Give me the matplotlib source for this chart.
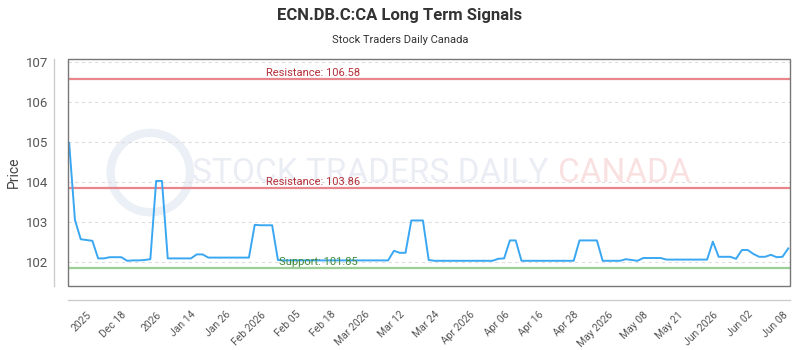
import matplotlib
matplotlib.use("Agg")
import matplotlib.pyplot as plt
from matplotlib.patches import Rectangle, Ellipse

plt.rcParams['font.family'] = ['Roboto', 'DejaVu Sans']

# daily prices
prices = [
    104.98, 103.05, 102.57, 102.55, 102.53, 102.09, 102.09, 102.12, 102.12, 102.12,
    102.03, 102.04, 102.04, 102.05, 102.07, 104.03, 104.03, 102.09, 102.09, 102.09,
    102.09, 102.09, 102.19, 102.19, 102.11, 102.11, 102.11, 102.11, 102.11, 102.11,
    102.11, 102.11, 102.93, 102.92, 102.92, 102.92, 102.05, 102.04, 102.04, 102.04,
    102.04, 102.04, 102.04, 102.04, 102.04, 102.04, 102.04, 102.04, 102.04, 102.04,
    102.04, 102.04, 102.04, 102.04, 102.04, 102.04, 102.28, 102.23, 102.23, 103.04,
    103.04, 103.04, 102.05, 102.03, 102.03, 102.03, 102.03, 102.03, 102.03, 102.03,
    102.03, 102.03, 102.03, 102.03, 102.08, 102.09, 102.54, 102.54, 102.03, 102.03,
    102.03, 102.03, 102.03, 102.03, 102.03, 102.03, 102.03, 102.03, 102.54, 102.54,
    102.54, 102.54, 102.03, 102.03, 102.03, 102.03, 102.07, 102.05, 102.03, 102.10,
    102.10, 102.10, 102.10, 102.06, 102.06, 102.06, 102.06, 102.06, 102.06, 102.06,
    102.06, 102.51, 102.13, 102.13, 102.13, 102.08, 102.30, 102.30, 102.20, 102.13,
    102.13, 102.18, 102.12, 102.13, 102.34,
]

tick_labels = ["2025", "Dec 18", "2026", "Jan 14", "Jan 26", "Feb 2026", "Feb 05",
               "Feb 18", "Mar 2026", "Mar 12", "Mar 24", "Apr 2026", "Apr 06",
               "Apr 16", "Apr 28", "May 2026", "May 08", "May 21", "Jun 2026",
               "Jun 02", "Jun 08"]
tick_pos = [3 + 6 * k for k in range(len(tick_labels))]

resistance = [106.58, 103.86]
support = [101.85]

fig = plt.figure(figsize=(8, 3.5), dpi=100)
ax = fig.add_axes([0.085, 0.183, 0.9025, 0.648])

# spines first (set_position resets the ticks)
for side in ["top", "right"]:
    ax.spines[side].set_visible(False)
for side in ["left", "bottom"]:
    ax.spines[side].set_position(("outward", 10))
    ax.spines[side].set_color("#cccccc")
    ax.spines[side].set_linewidth(1.0)

# watermark
ax.add_patch(Ellipse((0.114, 0.50), 0.11, 0.35, transform=ax.transAxes, fill=False,
                     ec="#c8d3e6", lw=6, alpha=0.35, zorder=0))
ax.text(0.418, 0.50, "STOCK TRADERS DAILY", transform=ax.transAxes, fontsize=24,
        color="#c5cde0", alpha=0.35, ha="center", va="center", zorder=0)
ax.text(0.77, 0.50, "CANADA", transform=ax.transAxes, fontsize=24,
        color="#f3a9a9", alpha=0.35, ha="center", va="center", zorder=0)

x = list(range(len(prices)))
ax.plot(x, prices, color="#3aa7f3", lw=1.4, zorder=3)

for r in resistance:
    ax.axhline(r, color="#e8868c", lw=1.6, zorder=2)
    ax.text(42, r + 0.03, f"Resistance: {r:.2f}", color="#b5303a", fontsize=8,
            ha="center", va="bottom", zorder=4)
for s in support:
    ax.axhline(s, color="#9ccf95", lw=1.6, zorder=2)
    ax.text(43, s + 0.03, f"Support: {s:.2f}", color="#3e8a3a", fontsize=8,
            ha="center", va="bottom", zorder=4)

ax.set_xlim(-0.2, 124.3)
ax.set_ylim(101.4, 107.08)
ax.set_yticks([102, 103, 104, 105, 106, 107])
ax.yaxis.grid(True, linestyle=(0, (3, 3)), color="#dddddd", lw=0.8)
ax.set_axisbelow(True)

ax.set_xticks(tick_pos)
ax.set_xticklabels(tick_labels, rotation=45, ha="right", rotation_mode="anchor",
                   fontsize=7.5, color="#555555")
ax.tick_params(axis="y", labelsize=9.5, labelcolor="#555555", length=0, pad=4)
ax.tick_params(axis="x", length=0, pad=7)
ax.set_ylabel("Price", fontsize=10, color="#444444", labelpad=4)

# inner frame
ax.add_patch(Rectangle((0, 0), 1, 1, transform=ax.transAxes, fill=False,
                       ec="#777777", lw=1.0, zorder=5, clip_on=False))

fig.text(0.5, 0.955, "ECN.DB.C:CA Long Term Signals", ha="center", va="center",
         fontsize=12, fontweight="bold", color="#333333")
fig.text(0.5, 0.885, "Stock Traders Daily Canada", ha="center", va="center",
         fontsize=8, color="#333333")

fig.savefig("out.png", dpi=100)
